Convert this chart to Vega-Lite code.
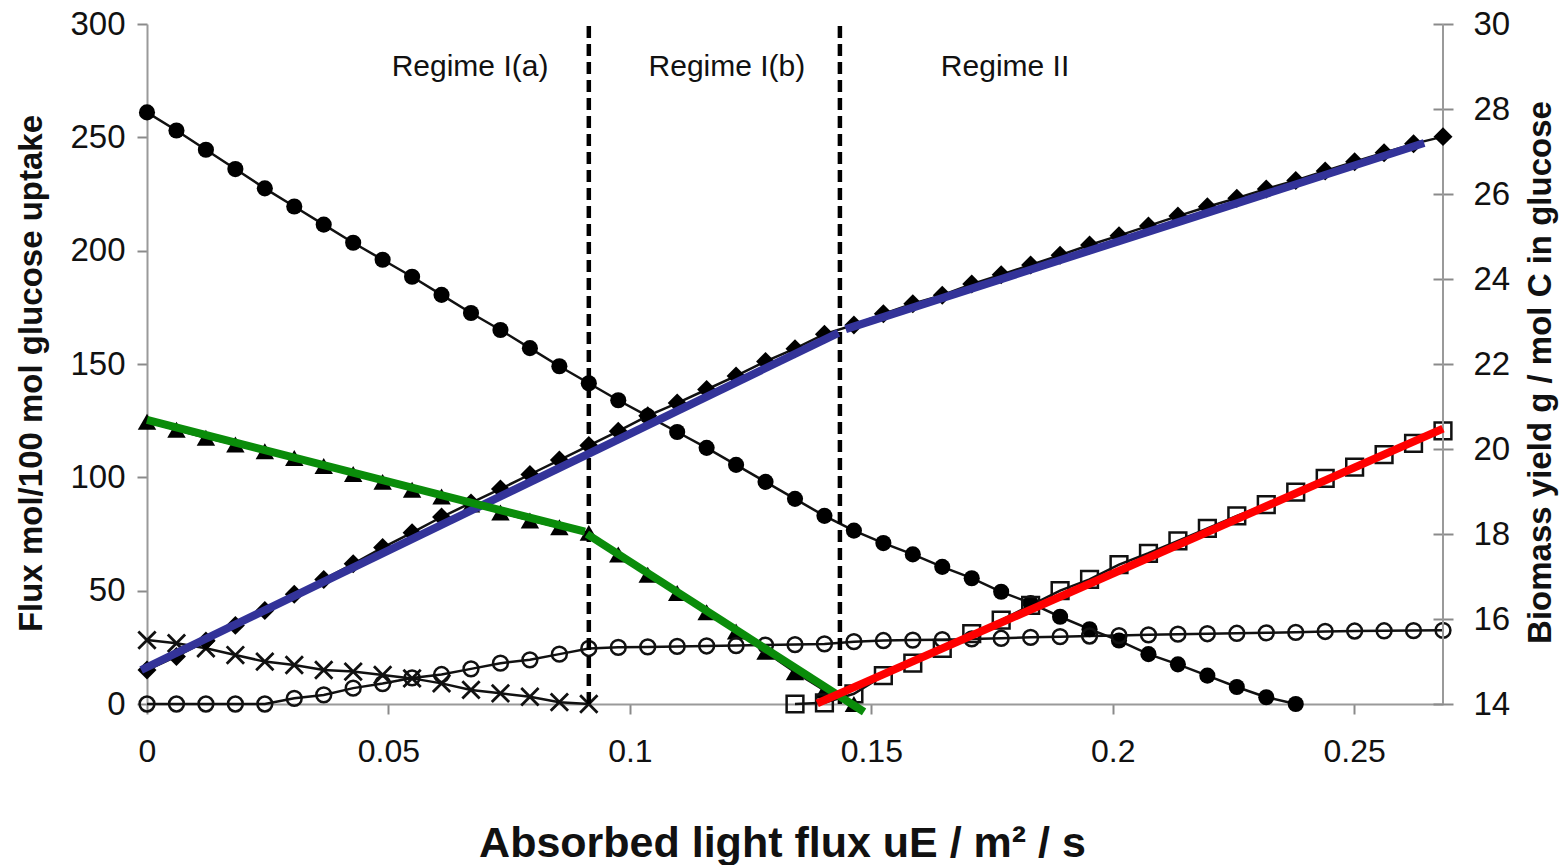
{
  "$schema": "https://vega.github.io/schema/vega-lite/v6.json",
  "width": 1296,
  "height": 680,
  "autosize": "none",
  "padding": {"left": 147, "top": 24, "right": 122, "bottom": 161},
  "background": "white",
  "config": {
    "view": {"stroke": null},
    "font": "Liberation Sans",
    "axis": {"grid": false, "domainColor": "#9a9a9a", "domainWidth": 2, "tickColor": "#8a8a8a", "tickWidth": 2, "labelColor": "#111", "titleColor": "#111", "labelFont": "Liberation Sans", "titleFont": "Liberation Sans"}
  },
  "datasets": {
    "pts": [
      {"s":"c","x":0,"v":261},{"s":"c","x":0.0061,"v":253},{"s":"c","x":0.0122,"v":244.5},{"s":"c","x":0.0183,"v":236},{"s":"c","x":0.0244,"v":227.5},{"s":"c","x":0.0305,"v":219.5},{"s":"c","x":0.0366,"v":211.5},{"s":"c","x":0.0427,"v":203.5},{"s":"c","x":0.0488,"v":196},{"s":"c","x":0.0549,"v":188.5},{"s":"c","x":0.061,"v":180.5},{"s":"c","x":0.0671,"v":172.5},{"s":"c","x":0.0732,"v":165},{"s":"c","x":0.0793,"v":157},{"s":"c","x":0.0854,"v":149},{"s":"c","x":0.0915,"v":141.5},{"s":"c","x":0.0976,"v":134},{"s":"c","x":0.1037,"v":127},{"s":"c","x":0.1098,"v":120},{"s":"c","x":0.1159,"v":113},{"s":"c","x":0.122,"v":105.5},{"s":"c","x":0.1281,"v":98},{"s":"c","x":0.1342,"v":90.5},{"s":"c","x":0.1403,"v":83},{"s":"c","x":0.1464,"v":76.5},{"s":"c","x":0.1525,"v":71},{"s":"c","x":0.1586,"v":66},{"s":"c","x":0.1647,"v":60.5},{"s":"c","x":0.1708,"v":55.5},{"s":"c","x":0.1769,"v":49.5},{"s":"c","x":0.183,"v":44.5},{"s":"c","x":0.1891,"v":38.5},{"s":"c","x":0.1952,"v":33},{"s":"c","x":0.2013,"v":28},{"s":"c","x":0.2074,"v":22},{"s":"c","x":0.2135,"v":17.5},{"s":"c","x":0.2196,"v":12.5},{"s":"c","x":0.2257,"v":7.5},{"s":"c","x":0.2318,"v":3},{"s":"c","x":0.2379,"v":0},
      {"s":"t","x":0,"v":124.5},{"s":"t","x":0.0061,"v":121},{"s":"t","x":0.0122,"v":117.5},{"s":"t","x":0.0183,"v":114.5},{"s":"t","x":0.0244,"v":111.5},{"s":"t","x":0.0305,"v":108.5},{"s":"t","x":0.0366,"v":105},{"s":"t","x":0.0427,"v":101.5},{"s":"t","x":0.0488,"v":98},{"s":"t","x":0.0549,"v":94.5},{"s":"t","x":0.061,"v":91.5},{"s":"t","x":0.0671,"v":88},{"s":"t","x":0.0732,"v":84.5},{"s":"t","x":0.0793,"v":81},{"s":"t","x":0.0854,"v":78},{"s":"t","x":0.0915,"v":75.5},{"s":"t","x":0.0976,"v":66},{"s":"t","x":0.1037,"v":57},{"s":"t","x":0.1098,"v":49},{"s":"t","x":0.1159,"v":40.5},{"s":"t","x":0.122,"v":32},{"s":"t","x":0.1281,"v":23},{"s":"t","x":0.1342,"v":14},{"s":"t","x":0.1403,"v":6},{"s":"t","x":0.1464,"v":0},
      {"s":"o","x":0,"v":0},{"s":"o","x":0.0061,"v":0},{"s":"o","x":0.0122,"v":0},{"s":"o","x":0.0183,"v":0},{"s":"o","x":0.0244,"v":0},{"s":"o","x":0.0305,"v":2.5},{"s":"o","x":0.0366,"v":4},{"s":"o","x":0.0427,"v":7},{"s":"o","x":0.0488,"v":9},{"s":"o","x":0.0549,"v":11.5},{"s":"o","x":0.061,"v":13},{"s":"o","x":0.0671,"v":15.5},{"s":"o","x":0.0732,"v":18},{"s":"o","x":0.0793,"v":19.5},{"s":"o","x":0.0854,"v":22},{"s":"o","x":0.0915,"v":24.5},{"s":"o","x":0.0976,"v":25},{"s":"o","x":0.1037,"v":25.2},{"s":"o","x":0.1098,"v":25.4},{"s":"o","x":0.1159,"v":25.6},{"s":"o","x":0.122,"v":25.8},{"s":"o","x":0.1281,"v":26},{"s":"o","x":0.1342,"v":26.2},{"s":"o","x":0.1403,"v":26.5},{"s":"o","x":0.1464,"v":27.5},{"s":"o","x":0.1525,"v":28},{"s":"o","x":0.1586,"v":28.2},{"s":"o","x":0.1647,"v":28.4},{"s":"o","x":0.1708,"v":28.7},{"s":"o","x":0.1769,"v":29},{"s":"o","x":0.183,"v":29.4},{"s":"o","x":0.1891,"v":29.7},{"s":"o","x":0.1952,"v":30},{"s":"o","x":0.2013,"v":30.2},{"s":"o","x":0.2074,"v":30.5},{"s":"o","x":0.2135,"v":30.8},{"s":"o","x":0.2196,"v":31},{"s":"o","x":0.2257,"v":31.2},{"s":"o","x":0.2318,"v":31.4},{"s":"o","x":0.2379,"v":31.6},{"s":"o","x":0.244,"v":32},{"s":"o","x":0.2501,"v":32.2},{"s":"o","x":0.2562,"v":32.3},{"s":"o","x":0.2623,"v":32.4},{"s":"o","x":0.2684,"v":32.5},
      {"s":"x","x":0,"v":28.2},{"s":"x","x":0.0061,"v":26.8},{"s":"x","x":0.0122,"v":24.6},{"s":"x","x":0.0183,"v":21.6},{"s":"x","x":0.0244,"v":18.7},{"s":"x","x":0.0305,"v":17.2},{"s":"x","x":0.0366,"v":15},{"s":"x","x":0.0427,"v":14.3},{"s":"x","x":0.0488,"v":12.8},{"s":"x","x":0.0549,"v":11.3},{"s":"x","x":0.061,"v":9.1},{"s":"x","x":0.0671,"v":6.2},{"s":"x","x":0.0732,"v":4.7},{"s":"x","x":0.0793,"v":3.2},{"s":"x","x":0.0854,"v":0.8},{"s":"x","x":0.0915,"v":0},
      {"s":"q","x":0.1342,"v":0},{"s":"q","x":0.1403,"v":0.5},{"s":"q","x":0.1464,"v":4.5},{"s":"q","x":0.1525,"v":12.5},{"s":"q","x":0.1586,"v":18},{"s":"q","x":0.1647,"v":24.5},{"s":"q","x":0.1708,"v":31},{"s":"q","x":0.1769,"v":37},{"s":"q","x":0.183,"v":43.5},{"s":"q","x":0.1891,"v":50},{"s":"q","x":0.1952,"v":55},{"s":"q","x":0.2013,"v":61.5},{"s":"q","x":0.2074,"v":66.5},{"s":"q","x":0.2135,"v":72},{"s":"q","x":0.2196,"v":77.5},{"s":"q","x":0.2257,"v":83},{"s":"q","x":0.2318,"v":88},{"s":"q","x":0.2379,"v":93.5},{"s":"q","x":0.244,"v":99.5},{"s":"q","x":0.2501,"v":104.5},{"s":"q","x":0.2562,"v":110},{"s":"q","x":0.2623,"v":115},{"s":"q","x":0.2684,"v":120.5}
    ],
    "dia": [
      {"x":0,"v":14.8},{"x":0.0061,"v":15.12},{"x":0.0122,"v":15.48},{"x":0.0183,"v":15.85},{"x":0.0244,"v":16.2},{"x":0.0305,"v":16.58},{"x":0.0366,"v":16.93},{"x":0.0427,"v":17.3},{"x":0.0488,"v":17.68},{"x":0.0549,"v":18.03},{"x":0.061,"v":18.4},{"x":0.0671,"v":18.73},{"x":0.0732,"v":19.06},{"x":0.0793,"v":19.4},{"x":0.0854,"v":19.74},{"x":0.0915,"v":20.08},{"x":0.0976,"v":20.42},{"x":0.1037,"v":20.78},{"x":0.1098,"v":21.08},{"x":0.1159,"v":21.4},{"x":0.122,"v":21.72},{"x":0.1281,"v":22.06},{"x":0.1342,"v":22.36},{"x":0.1403,"v":22.7},{"x":0.1464,"v":22.92},{"x":0.1525,"v":23.18},{"x":0.1586,"v":23.42},{"x":0.1647,"v":23.62},{"x":0.1708,"v":23.88},{"x":0.1769,"v":24.1},{"x":0.183,"v":24.33},{"x":0.1891,"v":24.56},{"x":0.1952,"v":24.8},{"x":0.2013,"v":25.02},{"x":0.2074,"v":25.25},{"x":0.2135,"v":25.48},{"x":0.2196,"v":25.7},{"x":0.2257,"v":25.9},{"x":0.2318,"v":26.12},{"x":0.2379,"v":26.32},{"x":0.244,"v":26.54},{"x":0.2501,"v":26.76},{"x":0.2562,"v":26.97},{"x":0.2623,"v":27.18},{"x":0.2684,"v":27.35}
    ],
    "blue": [
      {"b":"b1","x":-0.0012,"v":14.8},{"b":"b1","x":0.1432,"v":22.73},
      {"b":"b2","x":0.1447,"v":22.82},{"b":"b2","x":0.2645,"v":27.2}
    ],
    "fits": [
      {"g":"g1","x":0,"v":125.3},{"g":"g1","x":0.0907,"v":76},
      {"g":"g2","x":0.0911,"v":75},{"g":"g2","x":0.1485,"v":-3.5},
      {"g":"r","x":0.1388,"v":0.3},{"g":"r","x":0.2684,"v":121.5}
    ],
    "bounds": [{"x":0.0915,"v":0,"v2":300},{"x":0.1435,"v":0,"v2":300}],
    "edge": [{"x":0.2684,"v":14,"v2":30}],
    "labels": [
      {"x":0.0669,"v":281,"label":"Regime I(a)"},
      {"x":0.1201,"v":281,"label":"Regime I(b)"},
      {"x":0.1777,"v":281,"label":"Regime II"}
    ]
  },
  "encoding": {
    "x": {
      "field": "x", "type": "quantitative",
      "scale": {"domain": [0, 0.2684], "nice": false, "zero": false},
      "axis": {
        "values": [0, 0.05, 0.1, 0.15, 0.2, 0.25], "format": "~g", "labelFlush": false,
        "tickSize": 10, "labelPadding": 22, "labelFontSize": 32,
        "title": "Absorbed light flux uE / m² / s", "titleFontSize": 43, "titleFontWeight": "bold",
        "titleX": 635, "titleY": 139, "titleBaseline": "middle", "titleAlign": "center"
      }
    }
  },
  "layer": [
    {
      "encoding": {
        "y": {
          "field": "v", "type": "quantitative",
          "scale": {"domain": [0, 300], "nice": false},
          "axis": {
            "orient": "left", "values": [0, 50, 100, 150, 200, 250, 300],
            "tickSize": 10, "labelPadding": 12, "labelFontSize": 33,
            "title": "Flux mol/100 mol glucose uptake", "titleFontSize": 33, "titleFontWeight": "bold",
            "titleAngle": -90, "titleX": -116, "titleY": 349, "titleBaseline": "middle", "titleAlign": "center"
          }
        }
      },
      "layer": [
        {"data": {"name": "pts"}, "mark": {"type": "line", "color": "#111", "strokeWidth": 2.5}, "encoding": {"detail": {"field": "s"}}},
        {"data": {"name": "pts"}, "transform": [{"filter": "datum.s == 'c'"}], "mark": {"type": "point", "shape": "circle", "filled": true, "color": "#000", "size": 260, "opacity": 1}},
        {"data": {"name": "pts"}, "transform": [{"filter": "datum.s == 't'"}], "mark": {"type": "point", "shape": "triangle-up", "filled": true, "color": "#000", "size": 340, "opacity": 1}},
        {"data": {"name": "pts"}, "transform": [{"filter": "datum.s == 'o'"}], "mark": {"type": "point", "shape": "circle", "filled": false, "color": "#111", "strokeWidth": 2.5, "size": 220, "opacity": 1}},
        {"data": {"name": "pts"}, "transform": [{"filter": "datum.s == 'x'"}], "mark": {"type": "point", "shape": "M-1,-1L1,1M-1,1L1,-1", "filled": false, "color": "#111", "strokeWidth": 2.8, "size": 300, "opacity": 1}},
        {"data": {"name": "pts"}, "transform": [{"filter": "datum.s == 'q'"}], "mark": {"type": "point", "shape": "square", "filled": false, "color": "#111", "strokeWidth": 2.5, "size": 280, "opacity": 1}},
        {"data": {"name": "bounds"}, "mark": {"type": "rule", "color": "#000", "strokeWidth": 4.5, "strokeDash": [12, 6]}, "encoding": {"y2": {"field": "v2"}}},
        {"data": {"name": "labels"}, "mark": {"type": "text", "fontSize": 30, "font": "Liberation Sans", "color": "#111", "align": "center", "baseline": "middle"}, "encoding": {"text": {"field": "label"}}}
      ]
    },
    {
      "encoding": {
        "y": {
          "field": "v", "type": "quantitative",
          "scale": {"domain": [14, 30], "nice": false, "zero": false},
          "axis": {
            "orient": "right", "values": [14, 16, 18, 20, 22, 24, 26, 28, 30],
            "offset": -10, "domain": false, "tickSize": 20, "labelPadding": 20, "labelFontSize": 33,
            "title": "Biomass yield g / mol C in glucose", "titleFontSize": 33, "titleFontWeight": "bold",
            "titleAngle": -90, "titleX": 107, "titleY": 348, "titleBaseline": "middle", "titleAlign": "center"
          }
        }
      },
      "layer": [
        {"data": {"name": "edge"}, "mark": {"type": "rule", "color": "#9a9a9a", "strokeWidth": 2}, "encoding": {"y2": {"field": "v2"}}},
        {"data": {"name": "dia"}, "mark": {"type": "line", "color": "#111", "strokeWidth": 2.5}, "encoding": {}},
        {"data": {"name": "dia"}, "mark": {"type": "point", "shape": "diamond", "filled": true, "color": "#000", "size": 360, "opacity": 1}},
        {"data": {"name": "blue"}, "mark": {"type": "line", "color": "#333399", "strokeWidth": 8}, "encoding": {"detail": {"field": "b"}}}
      ]
    },
    {
      "encoding": {
        "y": {"field": "v", "type": "quantitative", "scale": {"domain": [0, 300], "nice": false}, "axis": null}
      },
      "layer": [
        {"data": {"name": "fits"}, "mark": {"type": "line", "strokeWidth": 8}, "encoding": {"color": {"field": "g", "type": "nominal", "scale": {"domain": ["g1", "g2", "r"], "range": ["#0a8c0a", "#0a8c0a", "#ff0000"]}, "legend": null}}}
      ]
    }
  ],
  "resolve": {"scale": {"y": "independent"}}
}
